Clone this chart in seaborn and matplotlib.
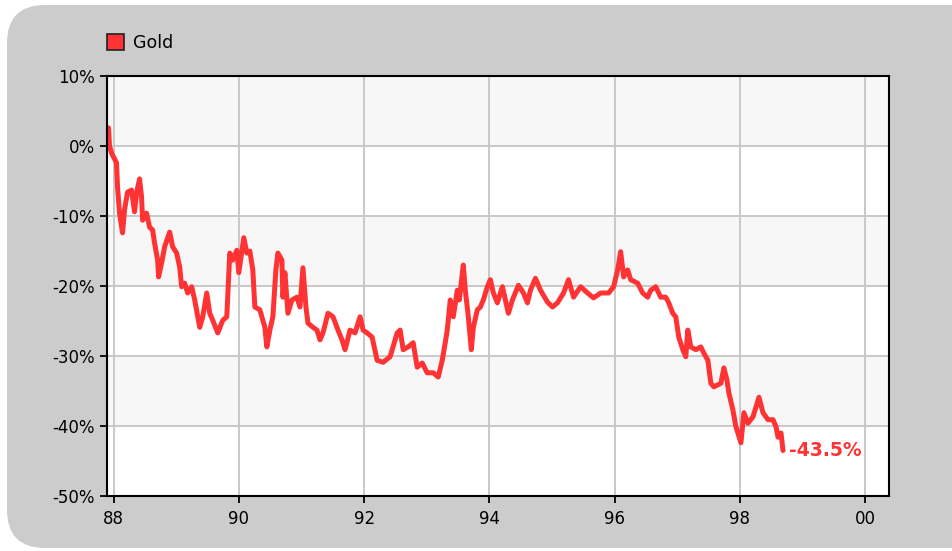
import matplotlib
matplotlib.use("Agg")
import matplotlib.pyplot as plt
import seaborn as sns
import pandas as pd
from matplotlib.patches import FancyBboxPatch, Patch

# ---- data ----
years = [87.90, 87.92, 87.936, 87.968, 88.048, 88.064, 88.096, 88.144, 88.176, 88.224,
         88.288, 88.336, 88.368, 88.416, 88.448, 88.464, 88.528, 88.576, 88.624, 88.656,
         88.704, 88.72, 88.768, 88.816, 88.896, 88.944, 89.008, 89.056, 89.088, 89.136,
         89.184, 89.248, 89.296, 89.376, 89.424, 89.488, 89.536, 89.584, 89.664, 89.744,
         89.808, 89.856, 89.904, 89.968, 90.0, 90.08, 90.128, 90.176, 90.224, 90.256,
         90.336, 90.416, 90.448, 90.496, 90.544, 90.592, 90.624, 90.688, 90.704, 90.736,
         90.784, 90.848, 90.928, 90.976, 91.024, 91.072, 91.104, 91.184, 91.248, 91.296,
         91.344, 91.424, 91.504, 91.584, 91.648, 91.696, 91.776, 91.856, 91.936, 91.984,
         92.048, 92.128, 92.208, 92.304, 92.416, 92.528, 92.576, 92.624, 92.704, 92.784,
         92.848, 92.928, 93.008, 93.104, 93.184, 93.248, 93.296, 93.328, 93.376, 93.424,
         93.488, 93.52, 93.584, 93.616, 93.664, 93.712, 93.744, 93.808, 93.856, 93.904,
         93.968, 94.016, 94.064, 94.128, 94.208, 94.256, 94.304, 94.368, 94.464, 94.544,
         94.608, 94.656, 94.736, 94.816, 94.928, 95.008, 95.088, 95.184, 95.264, 95.344,
         95.456, 95.568, 95.664, 95.776, 95.904, 95.984, 96.048, 96.096, 96.144, 96.208,
         96.256, 96.368, 96.448, 96.528, 96.576, 96.656, 96.736, 96.816, 96.864, 96.928,
         96.976, 97.024, 97.088, 97.136, 97.168, 97.216, 97.296, 97.376, 97.424, 97.488,
         97.536, 97.584, 97.696, 97.744, 97.792, 97.824, 97.888, 97.936, 98.016, 98.064,
         98.128, 98.208, 98.256, 98.304, 98.368, 98.448, 98.528, 98.576, 98.608, 98.656,
         98.688]
gold = [0.5, 2.6, 0.0, -1.0, -2.4, -5.9, -9.6, -12.4, -9.1, -6.6,
        -6.3, -9.4, -6.7, -4.7, -7.3, -10.6, -9.6, -11.6, -12.0, -13.9,
        -16.3, -18.7, -16.7, -14.4, -12.3, -14.4, -15.3, -17.3, -20.1, -19.6,
        -21.0, -20.1, -22.0, -25.9, -24.4, -21.0, -23.9, -24.9, -26.7, -24.9,
        -24.4, -15.3, -16.3, -14.9, -18.1, -13.1, -15.3, -15.0, -17.7, -23.0,
        -23.4, -25.9, -28.7, -26.3, -24.4, -17.7, -15.3, -16.3, -21.6, -18.1,
        -23.9, -22.0, -21.6, -23.0, -17.4, -23.0, -25.3, -25.9, -26.3, -27.7,
        -26.7, -23.9, -24.4, -26.3, -27.7, -29.1, -26.3, -26.7, -24.4, -26.3,
        -26.7, -27.3, -30.6, -30.9, -30.1, -26.7, -26.3, -29.1, -28.7, -28.1,
        -31.6, -31.0, -32.4, -32.4, -33.0, -30.6, -28.1, -26.3, -22.0, -24.4,
        -20.6, -22.0, -17.0, -20.6, -24.4, -29.1, -25.9, -23.4, -23.0, -22.0,
        -20.1, -19.1, -21.0, -22.4, -20.1, -22.0, -23.9, -22.0, -19.9, -21.0,
        -22.4, -20.6, -18.9, -20.6, -22.3, -23.0, -22.4, -21.0, -19.1, -21.6,
        -20.1, -21.0, -21.7, -21.0, -21.0, -20.1, -17.7, -15.1, -18.7, -17.7,
        -19.1, -19.6, -21.0, -21.6, -20.6, -20.1, -21.6, -21.6, -22.4, -23.9,
        -24.4, -27.3, -29.1, -30.1, -26.3, -28.7, -29.1, -28.7, -29.6, -30.6,
        -33.9, -34.4, -33.9, -31.7, -33.4, -35.3, -37.7, -40.1, -42.4, -38.1,
        -39.6, -38.7, -37.3, -35.9, -38.1, -39.1, -39.1, -40.1, -41.6, -41.0,
        -43.5]
series_name = "Gold"
end_label = "-43.5%"
x_ticks = [88, 90, 92, 94, 96, 98, 100]
x_tick_labels = ["88", "90", "92", "94", "96", "98", "00"]
y_ticks = [10, 0, -10, -20, -30, -40, -50]

df = pd.DataFrame({"year": years, "value": gold})

# ---- style ----
sns.set_theme(style="white")
plt.rcParams["font.family"] = ["DejaVu Sans"]

W, H = 952, 551
fig = plt.figure(figsize=(W / 100, H / 100), dpi=100, facecolor="white")

# rounded gray panel
bg = FancyBboxPatch((7 / W, 3 / H), (W + 40) / W, (H - 8) / H,
                    boxstyle="round,pad=0,rounding_size=0.04",
                    transform=fig.transFigure, facecolor="#cccccc",
                    edgecolor="none", zorder=-10, mutation_aspect=W / H)
fig.patches.append(bg)

ax = fig.add_axes([107 / W, (H - 496) / H, (889 - 107) / W, (496 - 76) / H])
ax.set_zorder(2)
ax.set_facecolor("white")

# alternating bands
for i, (top, bot) in enumerate(zip(y_ticks[:-1], y_ticks[1:])):
    if i % 2 == 0:
        ax.axhspan(bot, top, color="#f7f7f7", zorder=0, lw=0)

for yv in y_ticks:
    ax.axhline(yv, color="#c8c8c8", lw=1.4, zorder=1)
for xv in x_ticks:
    ax.axvline(xv, color="#c8c8c8", lw=1.4, zorder=1)

sns.lineplot(data=df, x="year", y="value", ax=ax, color="#ff3333",
             lw=3.6, zorder=3, legend=False)

ax.set_xlim(87.896, 100.38)
ax.set_ylim(-50, 10)
ax.set_xticks(x_ticks)
ax.set_xticklabels(x_tick_labels, fontsize=12, color="black")
ax.set_yticks(y_ticks)
ax.set_yticklabels([f"{v}%" for v in y_ticks], fontsize=12, color="black")
ax.set_xlabel("")
ax.set_ylabel("")
ax.tick_params(axis="both", which="both", length=5, width=1.3, color="black",
               direction="out", bottom=True, left=True)
ax.tick_params(axis="y", pad=4)
ax.tick_params(axis="x", pad=5)
for s in ax.spines.values():
    s.set_visible(True)
    s.set_color("black")
    s.set_linewidth(1.5)
    s.set_zorder(5)

ax.text(years[-1] + 0.09, gold[-1], end_label, color="#ff3333", fontsize=13.5,
        fontweight="bold", va="center", ha="left", zorder=6, clip_on=False)

handle = Patch(facecolor="#ff3333", edgecolor="#222222", linewidth=1.2)
fig.legend([handle], [series_name], loc="center left",
           bbox_to_anchor=(98 / W, (H - 43) / H), frameon=False,
           fontsize=12.5, handlelength=1.0, handleheight=1.0,
           handletextpad=0.5, borderpad=0, labelcolor="black")

fig.savefig("out.png", dpi=100, facecolor="white")
